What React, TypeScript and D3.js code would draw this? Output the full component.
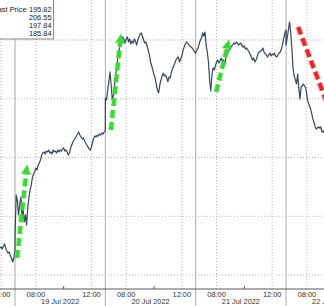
import React from "react";
import * as d3 from "d3";

const W = 324;
const H = 306;

// Trading days shown (index 0 = 18 Jul, partially visible)
const dayLabels = ["18 Jul 2022", "19 Jul 2022", "20 Jul 2022", "21 Jul 2022", "22 Jul 2022"];
const sessionOpen = "06:30";
const sessionClose = "13:00";
const barMinutes = 5;

// 5-minute prices per day
const jul18Start = "11:55";
const jul18Prices = [187.30, 187.38, 187.21, 187.47, 187.64, 187.30, 187.04, 186.87, 186.96, 186.62, 186.45, 186.11, 186.45, 187.13];
const jul19Prices = [
  188.23, 191.81, 191.38, 190.11, 190.96, 191.64, 190.11, 190.53, 189.51, 190.11,
  189.26, 190.70, 191.55, 192.23, 192.66, 193.26, 193.60, 193.77, 194.11, 193.94,
  194.36, 194.53, 194.79, 195.21, 195.38, 195.47, 195.30, 195.55, 195.47, 195.64,
  195.38, 195.47, 195.30, 195.64, 195.47, 195.55, 195.38, 195.64, 195.47, 195.64,
  195.55, 195.72, 195.81, 195.55, 195.64, 195.47, 195.21, 195.38, 195.81, 196.06,
  196.32, 196.49, 196.66, 196.83, 197.00, 197.17, 196.91, 196.74, 196.57, 196.66,
  196.40, 196.23, 196.06, 195.89, 195.72, 195.64, 195.89, 196.32, 196.66, 196.83,
  196.74, 196.91, 196.83, 197.00, 196.91, 197.09, 197.00, 197.17, 197.34,
];
const jul20Prices = [
  200.06, 199.89, 200.74, 201.43, 202.28, 201.17, 199.89, 200.32, 201.17, 202.02,
  202.87, 203.64, 204.15, 204.66, 205.00, 205.26, 205.09, 204.74, 205.09, 205.26,
  204.83, 205.09, 204.66, 204.91, 204.74, 205.09, 204.91, 204.57, 205.00, 205.26,
  205.51, 205.60, 205.34, 205.00, 204.74, 204.83, 204.49, 204.15, 203.72, 203.13,
  202.79, 202.45, 202.02, 201.77, 201.17, 200.74, 200.49, 201.17, 201.60, 201.94,
  202.19, 201.94, 202.02, 201.77, 201.43, 201.85, 201.77, 202.28, 202.53, 202.79,
  203.04, 203.30, 203.47, 203.55, 203.13, 203.38, 203.64, 204.06, 204.40, 204.66,
  204.83, 204.74, 204.57, 204.49, 204.40, 204.32, 204.15, 203.98, 203.89,
];
const jul21Prices = [
  203.89, 204.15, 204.32, 204.66, 205.00, 205.17, 205.60, 205.34, 205.68, 204.57,
  203.98, 203.13, 201.60, 200.66, 202.02, 202.62, 202.45, 202.79, 203.13, 203.30,
  203.04, 203.21, 203.47, 203.21, 203.30, 202.87, 203.47, 203.72, 203.98, 204.15,
  204.32, 204.49, 204.57, 204.74, 204.66, 204.83, 204.74, 204.57, 204.66, 204.74,
  204.49, 204.40, 204.49, 204.23, 204.32, 204.15, 203.98, 203.81, 203.55, 203.30,
  203.47, 203.13, 203.30, 203.55, 203.89, 203.98, 204.06, 204.15, 204.32, 203.98,
  203.81, 203.72, 203.55, 203.72, 203.89, 203.64, 203.81, 203.72, 203.89, 203.64,
  203.55, 203.72, 203.89, 203.98, 204.23, 204.66, 205.17, 205.60, 205.85,
];
const jul22Prices = [
  204.57, 205.17, 205.85, 206.55, 205.68, 204.32, 202.62, 201.94, 201.60, 201.26,
  202.11, 200.91, 199.98, 201.00, 201.09, 201.26, 201.09, 200.91, 200.23, 199.72,
  199.47, 199.21, 198.79, 198.36, 198.02, 197.68, 197.43, 197.51, 197.60, 197.51,
  197.60, 197.17, 197.26, 197.09,
];

const majorTickTimes = ["08:00", "12:00"];
const minorTickTimes = ["10:00"];
const gridPrices = [185, 190, 195, 200, 205];

const legendLabels = ["Last Price", "", "", ""];
const legendValues = ["195.82", "206.55", "197.84", "185.84"];

// Annotation arrows: [dayIndex, time, price]
type Pt = [number, string, number];
const arrowFrom: Pt[] = [[1, "06:39", 186.45], [2, "06:54", 197.34], [3, "07:58", 200.57], [4, "07:22", 206.11]];
const arrowTo: Pt[] = [[1, "07:22", 194.36], [2, "07:38", 205.51], [3, "08:54", 205.0], [4, "10:23", 196.74]];
const arrowColors = ["#3ed43a", "#3ed43a", "#3ed43a", "#dc2a2e"];
const arrowHasHead = [true, true, true, false];

const toH = (t: string) => {
  const [h, m] = t.split(":").map(Number);
  return h + m / 60;
};
const openH = toH(sessionOpen);
const sessLen = toH(sessionClose) - openH;
// continuous trading-hours coordinate, 0 = open of 19 Jul
const sh = (day: number, t: string) => (day - 1) * sessLen + (toH(t) - openH);
const fmt = (mins: number) => {
  const h = Math.floor(mins / 60);
  const m = Math.round(mins % 60);
  return `${String(h).padStart(2, "0")}:${String(m).padStart(2, "0")}`;
};

function buildSeries() {
  const out: { s: number; p: number }[] = [];
  const add = (day: number, start: string, prices: number[]) => {
    const st = toH(start) * 60;
    prices.forEach((p, i) => out.push({ s: sh(day, fmt(st + i * barMinutes)), p }));
  };
  add(0, jul18Start, jul18Prices);
  add(1, sessionOpen, jul19Prices);
  add(2, sessionOpen, jul20Prices);
  add(3, sessionOpen, jul21Prices);
  add(4, sessionOpen, jul22Prices);
  return out;
}

export default function App() {
  const series = buildSeries();
  const x = d3.scaleLinear().domain([-1.08, 22.23]).range([0, W]);
  const y = d3.scaleLinear().domain([183.809, 208.404]).range([289, 0]);
  const axisY = y(183.809);

  const line = d3
    .line<{ s: number; p: number }>()
    .x((d) => x(d.s))
    .y((d) => y(d.p));

  const font = "'Liberation Sans', Arial, sans-serif";
  const dayIdx = d3.range(dayLabels.length);

  const arrows = arrowFrom.map((f, i) => {
    const t = arrowTo[i];
    const x0 = x(sh(f[0], f[1]));
    const y0 = y(f[2]);
    const x1 = x(sh(t[0], t[1]));
    const y1 = y(t[2]);
    const len = Math.hypot(x1 - x0, y1 - y0);
    const ux = (x1 - x0) / len;
    const uy = (y1 - y0) / len;
    const headL = 9;
    const headW = 4.6;
    const ex = arrowHasHead[i] ? x1 - ux * headL : x1;
    const ey = arrowHasHead[i] ? y1 - uy * headL : y1;
    const bx1 = ex - uy * headW;
    const by1 = ey + ux * headW;
    const bx2 = ex + uy * headW;
    const by2 = ey - ux * headW;
    return { x0, y0, ex, ey, x1, y1, bx1, by1, bx2, by2, color: arrowColors[i], head: arrowHasHead[i] };
  });

  return (
    <svg
      width={W}
      height={H}
      style={{ position: "fixed", left: 0, top: 0, background: "#fff" }}
      fontFamily={font}
    >
      <rect x={0} y={0} width={W} height={H} fill="#fff" />
      {/* horizontal dotted grid */}
      {gridPrices.map((g) => (
        <line key={g} x1={0} x2={W} y1={y(g)} y2={y(g)} stroke="#b4b4b4" strokeWidth={1} strokeDasharray="1,2" />
      ))}
      {/* vertical dotted grid at major times */}
      {dayIdx.map((d) =>
        majorTickTimes.map((t) => (
          <line
            key={`g${d}${t}`}
            x1={x(sh(d, t))}
            x2={x(sh(d, t))}
            y1={0}
            y2={axisY}
            stroke="#b4b4b4"
            strokeWidth={1}
            strokeDasharray="1,2"
          />
        ))
      )}
      {/* day separators */}
      {dayIdx.slice(1).map((d) => (
        <line key={`sep${d}`} x1={x(sh(d, sessionOpen))} x2={x(sh(d, sessionOpen))} y1={0} y2={H} stroke="#a9a9a9" strokeWidth={1} />
      ))}
      {/* axis */}
      <line x1={0} x2={W} y1={axisY} y2={axisY} stroke="#5a5a5a" strokeWidth={1} />
      {dayIdx.map((d) =>
        minorTickTimes.map((t) => (
          <line key={`mt${d}${t}`} x1={x(sh(d, t))} x2={x(sh(d, t))} y1={axisY - 3} y2={axisY} stroke="#555" strokeWidth={1} />
        ))
      )}
      {dayIdx.map((d) =>
        majorTickTimes.map((t) => (
          <text key={`tl${d}${t}`} x={x(sh(d, t))} y={296.5} fontSize={7.4} fill="#333" textAnchor="middle">
            {t}
          </text>
        ))
      )}
      {dayIdx.map((d) => (
        <text key={`dl${d}`} x={x(sh(d, sessionOpen) + sessLen / 2)} y={304} fontSize={7.4} fill="#333" textAnchor="middle">
          {dayLabels[d]}
        </text>
      ))}
      {/* price line */}
      <path d={line(series) || ""} fill="none" stroke="#34465e" strokeWidth={1.2} strokeLinejoin="round" />
      {/* arrows */}
      {arrows.map((a, i) => (
        <g key={`ar${i}`}>
          <line x1={a.x0} y1={a.y0} x2={a.ex} y2={a.ey} stroke={a.color} strokeOpacity={0.3} strokeWidth={6.5} strokeDasharray="8,4" />
          <line x1={a.x0} y1={a.y0} x2={a.ex} y2={a.ey} stroke={a.color} strokeWidth={4} strokeDasharray="8,4" />
          {a.head && (
            <polygon points={`${a.x1},${a.y1} ${a.bx1},${a.by1} ${a.bx2},${a.by2}`} fill={a.color} stroke={a.color} strokeOpacity={0.3} strokeWidth={1.5} />
          )}
        </g>
      ))}
      {/* legend */}
      <rect x={-1} y={-1} width={54.5} height={40} fill="#fff" stroke="#8a8a8a" strokeWidth={1} />
      {legendValues.map((v, i) => (
        <g key={`lg${i}`}>
          <text x={26.5} y={11.5 + i * 8.3} fontSize={7.4} fill="#222" textAnchor="end">
            {legendLabels[i]}
          </text>
          <text x={51.5} y={11.5 + i * 8.3} fontSize={7.4} fill="#222" textAnchor="end">
            {v}
          </text>
        </g>
      ))}
    </svg>
  );
}
